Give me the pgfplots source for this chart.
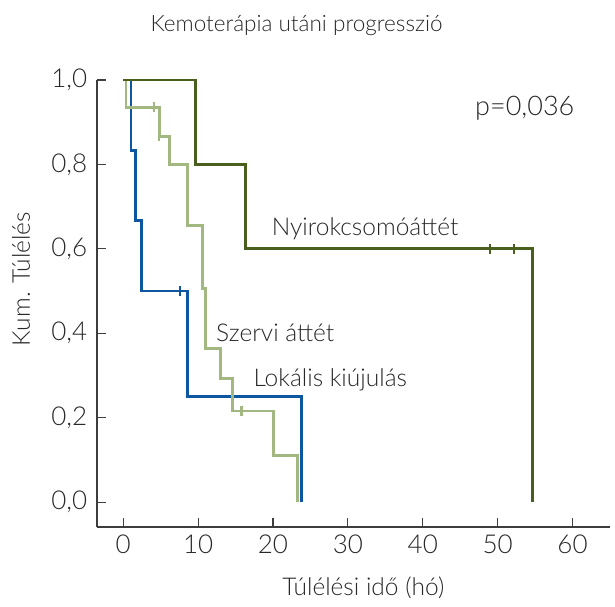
\documentclass[border=0pt]{standalone}
\usepackage{fontspec}
\setmainfont{Lato Light}
\usepackage{pgfplots}
\pgfplotsset{compat=1.18}
\definecolor{dgreen}{RGB}{74,94,30}
\definecolor{lgreen}{RGB}{163,183,128}
\definecolor{kblue}{RGB}{12,86,162}
\definecolor{txt}{RGB}{40,40,40}
\newcommand{\labf}{\fontsize{24.5}{29}\selectfont}
\newcommand{\titf}{\fontsize{22.5}{27}\selectfont}
\newcommand{\pf}{\fontsize{27}{32}\selectfont}
\newcommand{\tickf}{\fontsize{26}{30}\selectfont}
\begin{document}
\begin{tikzpicture}
\begin{axis}[
  scale only axis,
  width=513pt, height=447pt,
  xmin=-3.5, xmax=65, ymin=-0.059, ymax=1.0,
  axis x line=bottom, axis y line=left,
  axis line style={-, line width=1.2pt, color=txt!90},
  tick style={line width=1.2pt, color=txt!90},
  tick align=inside,
  major tick length=9pt,
  xtick={0,10,...,60},
  ytick={0,0.2,...,1.0},
  /pgf/number format/assume math mode=true,
  ticklabel style={font=\tickf, text=txt},
  xticklabel style={yshift=-4.3pt},
  yticklabel style={xshift=-6.3pt, /pgf/number format/.cd, fixed, fixed zerofill, precision=1, use comma},
  clip=false,
]
\coordinate (sw) at (rel axis cs:0,0);
\addplot[kblue, line width=2.8pt] coordinates {
(0,1) (1.03,1) (1.03,0.833) (1.6,0.833) (1.6,0.667) (2.4,0.667) (2.4,0.5) (8.63,0.5) (8.63,0.25) (23.84,0.25) (23.84,0)
};
\addplot[kblue, only marks, mark=|, mark size=5pt, mark options={line width=2.4pt}] coordinates {(7.6,0.5)};
\addplot[lgreen, line width=2.8pt] coordinates {
(0,1) (0.36,1) (0.36,0.935) (4.85,0.935) (4.85,0.867) (6.14,0.867) (6.14,0.799) (8.58,0.799) (8.58,0.656) (10.58,0.656) (10.58,0.506) (10.95,0.506) (10.95,0.364) (12.94,0.364) (12.94,0.293) (14.6,0.293) (14.6,0.216) (20.05,0.216) (20.05,0.111) (23.3,0.111) (23.3,0)
};
\addplot[lgreen, only marks, mark=|, mark size=5pt, mark options={line width=2.4pt}] coordinates {(4.1,0.935) (4.75,0.867) (15.8,0.216)};
\addplot[dgreen, line width=2.8pt] coordinates {
(0,1) (9.6,1) (9.6,0.8) (16.3,0.8) (16.3,0.6) (54.7,0.6) (54.7,0)
};
\addplot[dgreen, only marks, mark=|, mark size=5pt, mark options={line width=2.4pt}] coordinates {(49.0,0.6) (52.2,0.6)};
\end{axis}
\begin{scope}[every node/.style={text=txt, inner sep=0pt}]
\node[font=\titf, anchor=base] at ([shift={(199.5pt,495.3pt)}]sw) {Kemoterápia utáni progresszió};
\node[font=\labf, anchor=base west] at ([shift={(174.7pt,292pt)}]sw) {Nyirokcsomóáttét};
\node[font=\labf, anchor=base west] at ([shift={(119pt,185.3pt)}]sw) {Szervi áttét};
\node[font=\labf, anchor=base west] at ([shift={(156.3pt,140.3pt)}]sw) {Lokális kiújulás};
\node[font=\pf, anchor=base west] at ([shift={(378pt,411.3pt)}]sw) {p=0,036};
\node[font=\labf, anchor=base] at ([shift={(266.3pt,-68pt)}]sw) {Túlélési idő (hó)};
\node[font=\labf, anchor=base, rotate=90] at ([shift={(-67pt,248pt)}]sw) {Kum. Túlélés};
\end{scope}
\pgfresetboundingbox
\path ([shift={(-97pt,-79pt)}]sw) rectangle ++(615pt,606pt);
\end{tikzpicture}
\end{document}
